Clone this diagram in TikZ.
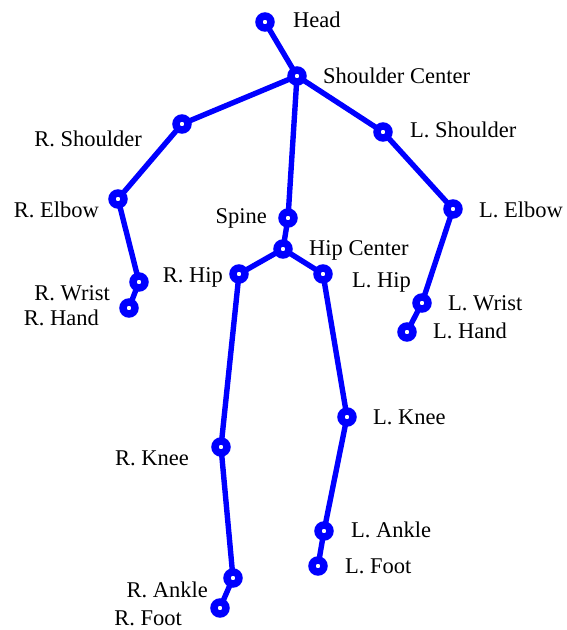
\documentclass[tikz,border=0pt]{standalone}
\usepackage{fontspec}
\setmainfont{Liberation Serif}
\usepackage{tikz}
\usetikzlibrary{backgrounds}
\definecolor{skelblue}{HTML}{0000FF}
\tikzset{
  joint/.style={circle, draw=skelblue, fill=white, line width=7.4pt,
                minimum size=12pt, inner sep=0pt},
  bone/.style={draw=skelblue, line width=5.4pt},
  jointlabel/.style={font=\fontsize{22.5}{27}\selectfont, inner sep=0pt},
  lft/.style={jointlabel, anchor=base east},
  rgt/.style={jointlabel, anchor=base west}
}

\begin{document}
\begin{tikzpicture}[x=1pt,y=-1pt]
  \path[use as bounding box] (0,0) rectangle (566,630);

  % Joints (torso and head).
  \node[joint] (head)   at (265,22)  {};
  \node[joint] (shc)    at (297,76)  {};
  \node[joint] (spine)  at (288,218) {};
  \node[joint] (hipc)   at (283,249) {};

  % Arms.
  \node[joint] (rshoul) at (182,124) {};
  \node[joint] (relbow) at (118,199) {};
  \node[joint] (rwrist) at (139,282) {};
  \node[joint] (rhand)  at (129,308) {};
  \node[joint] (lshoul) at (383,132) {};
  \node[joint] (lelbow) at (453,209) {};
  \node[joint] (lwrist) at (422,303) {};
  \node[joint] (lhand)  at (407,332) {};

  % Legs.
  \node[joint] (rhip)   at (239,274) {};
  \node[joint] (rknee)  at (221,447) {};
  \node[joint] (rankle) at (233,578) {};
  \node[joint] (rfoot)  at (220,608) {};
  \node[joint] (lhip)   at (323,274) {};
  \node[joint] (lknee)  at (347,417) {};
  \node[joint] (lankle) at (324,531) {};
  \node[joint] (lfoot)  at (318,566) {};

  % Bones, behind the joint markers.
  \begin{pgfonlayer}{background}
    \draw[bone] (head.center) -- (shc.center) -- (spine.center)
      -- (hipc.center);
    \draw[bone] (shc.center) -- (rshoul.center) -- (relbow.center)
      -- (rwrist.center) -- (rhand.center);
    \draw[bone] (shc.center) -- (lshoul.center) -- (lelbow.center)
      -- (lwrist.center) -- (lhand.center);
    \draw[bone] (hipc.center) -- (rhip.center) -- (rknee.center)
      -- (rankle.center) -- (rfoot.center);
    \draw[bone] (hipc.center) -- (lhip.center) -- (lknee.center)
      -- (lankle.center) -- (lfoot.center);
  \end{pgfonlayer}

  % Labels.
  \node[rgt] (lbhead)   at (293,27)  {Head};
  \node[rgt] (lbshc)    at (323,83)  {Shoulder Center};
  \node[lft] (lbrshoul) at (142,146) {R. Shoulder};
  \node[rgt] (lblshoul) at (410,137) {L. Shoulder};
  \node[lft] (lbrelbow) at (99,217)  {R. Elbow};
  \node[rgt] (lblelbow) at (479,217) {L. Elbow};
  \node[lft] (lbspine)  at (267,223) {Spine};
  \node[rgt] (lbhipc)   at (309,255) {Hip Center};
  \node[lft] (lbrhip)   at (223,282) {R. Hip};
  \node[rgt] (lblhip)   at (352,287) {L. Hip};
  \node[lft] (lbrwrist) at (110,300) {R. Wrist};
  \node[lft] (lbrhand)  at (99,325)  {R. Hand};
  \node[rgt] (lblwrist) at (448,310) {L. Wrist};
  \node[rgt] (lblhand)  at (433,338) {L. Hand};
  \node[lft] (lbrknee)  at (189,465) {R. Knee};
  \node[rgt] (lblknee)  at (373,424) {L. Knee};
  \node[rgt] (lblankle) at (351,537) {L. Ankle};
  \node[rgt] (lblfoot)  at (345,573) {L. Foot};
  \node[lft] (lbrankle) at (208,597) {R. Ankle};
  \node[lft] (lbrfoot)  at (182,625) {R. Foot};
\end{tikzpicture}
\end{document}
